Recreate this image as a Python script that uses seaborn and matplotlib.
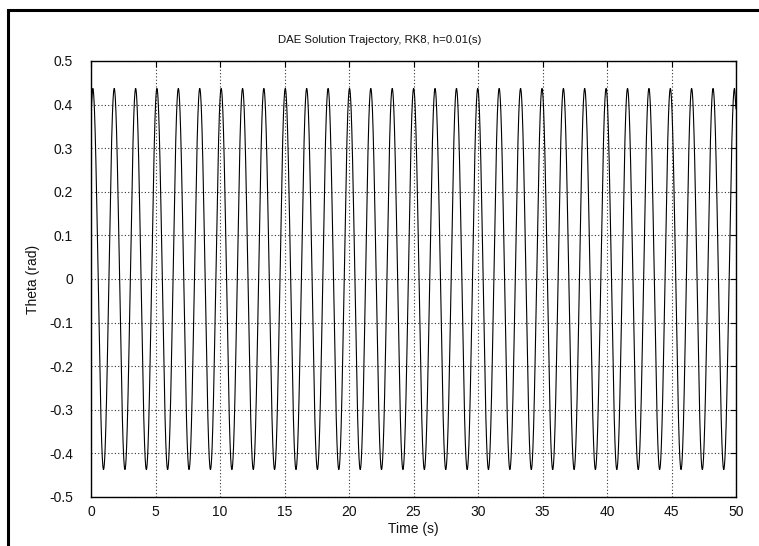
import numpy as np
import pandas as pd
import matplotlib
matplotlib.use("Agg")
import matplotlib.pyplot as plt
from matplotlib.lines import Line2D
import seaborn as sns

# values
peak_times = [0.14, 1.80, 3.46, 5.11, 6.77, 8.43, 10.09, 11.75, 13.40, 15.06,
              16.72, 18.38, 20.04, 21.69, 23.35, 25.01, 26.67, 28.33, 29.98, 31.64,
              33.30, 34.96, 36.62, 38.27, 39.93, 41.59, 43.25, 44.91, 46.56, 48.22,
              49.88]
trough_times = [0.97, 2.63, 4.29, 5.94, 7.60, 9.26, 10.92, 12.58, 14.23, 15.89,
                17.55, 19.21, 20.87, 22.52, 24.18, 25.84, 27.50, 29.16, 30.81, 32.47,
                34.13, 35.79, 37.45, 39.10, 40.76, 42.42, 44.08, 45.74, 47.39, 49.05]
peak_value = 0.437
trough_value = -0.437
start_value = 0.39
end_value = 0.39
t_end = 50.0
h = 0.01

xticks = [0, 5, 10, 15, 20, 25, 30, 35, 40, 45, 50]
yticks = [-0.5, -0.4, -0.3, -0.2, -0.1, 0, 0.1, 0.2, 0.3, 0.4, 0.5]
ytick_labels = ["-0.5", "-0.4", "-0.3", "-0.2", "-0.1", "0", "0.1", "0.2", "0.3", "0.4", "0.5"]

# knots: start, alternating extrema, end
ext_t = sorted(peak_times + trough_times)
ext_v = [peak_value if t in peak_times else trough_value for t in ext_t]
knot_t = np.array([0.0] + ext_t + [t_end])
knot_v = np.array([start_value] + ext_v + [end_value])

# smooth half-cosine joins between successive extrema, sampled at step h
t = np.round(np.arange(0, t_end + h / 2, h), 4)
idx = np.clip(np.searchsorted(knot_t, t, side="right") - 1, 0, len(knot_t) - 2)
t0, t1 = knot_t[idx], knot_t[idx + 1]
v0, v1 = knot_v[idx], knot_v[idx + 1]
s = (t - t0) / (t1 - t0)
theta = (v0 + v1) / 2 + (v0 - v1) / 2 * np.cos(np.pi * s)
df = pd.DataFrame({"Time (s)": t, "Theta (rad)": theta})

sns.set_style("white")
plt.rcParams["font.family"] = ["Liberation Sans", "DejaVu Sans"]

fig = plt.figure(figsize=(7.59, 5.46), dpi=100)
ax = fig.add_axes([91 / 759, 1 - 497 / 546, 645 / 759, 436 / 546])

sns.lineplot(data=df, x="Time (s)", y="Theta (rad)", ax=ax, color="black",
             linewidth=0.8, estimator=None, sort=False)

ax.set_xlim(0, 50)
ax.set_ylim(-0.5, 0.5)
ax.set_xticks(xticks)
ax.set_xticklabels([str(v) for v in xticks])
ax.set_yticks(yticks)
ax.set_yticklabels(ytick_labels)
ax.tick_params(direction="in", length=4, width=0.8, color="black",
               top=True, right=True, labelsize=10, labelcolor="#111111")
ax.tick_params(axis="y", pad=13)
ax.tick_params(axis="x", pad=6)
ax.grid(True, linestyle=(0, (1, 2)), color="#333333", linewidth=0.8)
for sp in ax.spines.values():
    sp.set_color("black")
    sp.set_linewidth(1.0)

ax.set_xlabel("Time (s)", fontsize=10, color="#111111")
ax.set_ylabel("Theta (rad)", fontsize=10, color="#111111")
ax.xaxis.set_label_coords(0.5, -0.057)
ax.yaxis.set_label_coords(-0.079, 0.5)

fig.text(0.5, 1 - 40 / 546, "DAE Solution Trajectory, RK8, h=0.01(s)",
         ha="center", va="center", fontsize=8.2, color="#111111")

# page frame (left and top edges)
fig.add_artist(Line2D([8 / 759, 8 / 759], [0, 1 - 10 / 546], color="black",
                      linewidth=2.2, transform=fig.transFigure))
fig.add_artist(Line2D([8 / 759, 758 / 759], [1 - 10 / 546, 1 - 10 / 546],
                      color="black", linewidth=2.2, transform=fig.transFigure,
                      solid_capstyle="projecting"))

fig.savefig("out.png", dpi=100)
